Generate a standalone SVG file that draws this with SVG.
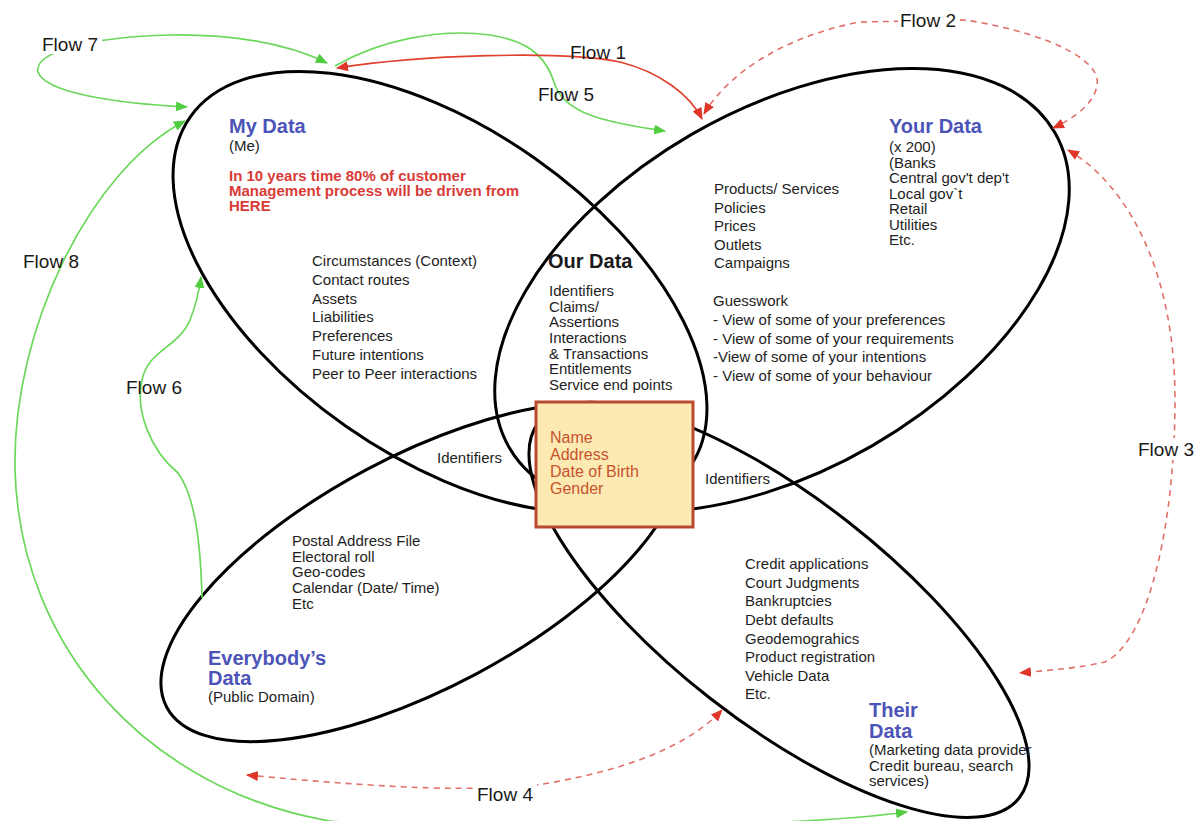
<svg xmlns="http://www.w3.org/2000/svg" width="1202" height="821" viewBox="0 0 1202 821">
<style>
text{font-family:"Liberation Sans",Arial,Helvetica,sans-serif;font-size:15px;fill:#1e1e1e}
.ell{fill:none;stroke:#000;stroke-width:3}
.flow{font-size:19px;fill:#1a1a1a}
.hd{font-size:20px;font-weight:bold;fill:#4c54b8}
.hk{font-size:20px;font-weight:bold;fill:#1a1a1a}
.rt{font-size:15px;font-weight:bold;fill:#d83b37}
.bx{font-size:16px;fill:#c6532e}
.g{fill:none;stroke:#6cd85b;stroke-width:1.7}
.r{fill:none;stroke:#e0402e;stroke-width:1.6}
.rd{fill:none;stroke:#e2706a;stroke-width:1.6;stroke-dasharray:6 5}
.bg{fill:#fff}
</style>
<defs>
<marker id="ag" viewBox="0 0 12 10" refX="11" refY="5" markerWidth="12" markerHeight="10" markerUnits="userSpaceOnUse" orient="auto-start-reverse"><path d="M0,0 L12,5 L0,10 z" fill="#52cc40"/></marker>
<marker id="ar" viewBox="0 0 12 10" refX="11" refY="5" markerWidth="12" markerHeight="10" markerUnits="userSpaceOnUse" orient="auto-start-reverse"><path d="M0,0 L12,5 L0,10 z" fill="#e0362a"/></marker>
</defs>
<rect width="1202" height="821" fill="#fff"/>

<g id="ellipses">
<ellipse id="my-data-shape" class="ell" cx="0" cy="0" rx="305" ry="164" transform="translate(440,292) rotate(35)"/>
<ellipse id="your-data-shape" class="ell" cx="0" cy="0" rx="315" ry="180" transform="translate(782,290) rotate(-30)"/>
<ellipse id="everybody-data-shape" class="ell" cx="0" cy="0" rx="288" ry="116" transform="translate(421,572) rotate(-28)"/>
<ellipse id="their-data-shape" class="ell" cx="0" cy="0" rx="305" ry="112" transform="translate(779,610) rotate(38)"/>
</g>

<g id="connectors">
<path id="flow7" class="g" d="M187,107 C110,103 45,92 38,72 C34,52 90,37 170,35 C240,34 290,45 327,63" marker-start="url(#ag)" marker-end="url(#ag)"/>
<path id="flow5" class="g" d="M335,66 C380,40 440,28 490,35 C535,42 548,62 555,85 C565,112 600,122 665,131" marker-end="url(#ag)"/>
<path id="flow1" class="r" d="M337,68 C420,55 560,50 620,62 C660,72 690,95 702,119" marker-start="url(#ar)" marker-end="url(#ar)"/>
<path id="flow2" class="rd" d="M704,114 C730,70 790,35 860,22 L965,20 C1020,28 1090,50 1097,78 C1100,100 1075,118 1053,128" marker-start="url(#ar)" marker-end="url(#ar)"/>
<path id="flow3" class="rd" d="M1068,150 C1120,180 1175,260 1175,400 C1175,520 1150,640 1105,662 C1080,668 1050,670 1020,673" marker-start="url(#ar)" marker-end="url(#ar)"/>
<path id="flow4" class="rd" d="M247,775 C320,782 420,790 480,788 L537,785 C600,775 680,755 722,710" marker-start="url(#ar)" marker-end="url(#ar)"/>
<path id="flow6" class="g" d="M202,598 C201,560 198,500 178,473 C150,450 135,410 142,380 C148,350 178,348 190,320 C196,305 199,292 201,277" marker-end="url(#ag)"/>
<path id="flow8" class="g" d="M907,812 C800,826 500,835 330,821 C150,790 20,650 15,470 C12,330 90,170 185,121" marker-start="url(#ag)" marker-end="url(#ag)"/>
</g>

<g id="flow-labels">
<rect class="bg" x="40" y="33" width="62" height="21"/>
<text class="flow" x="42" y="51">Flow 7</text>
<text class="flow" x="570" y="59">Flow 1</text>
<text class="flow" x="538" y="101">Flow 5</text>
<rect class="bg" x="898" y="9" width="61" height="21"/>
<text class="flow" x="900" y="27">Flow 2</text>
<text class="flow" x="23" y="268">Flow 8</text>
<text class="flow" x="126" y="394">Flow 6</text>
<rect class="bg" x="1136" y="438" width="62" height="22"/>
<text class="flow" x="1138" y="456">Flow 3</text>
<rect class="bg" x="475" y="783" width="62" height="22"/>
<text class="flow" x="477" y="801">Flow 4</text>
</g>

<g id="my-data">
<text class="hd" x="229" y="133">My Data</text>
<text x="229" y="151">(Me)</text>
<text class="rt" x="229" y="181">In 10 years time 80% of customer</text>
<text class="rt" x="229" y="196">Management process will be driven from</text>
<text class="rt" x="229" y="211">HERE</text>
<text x="312" y="266">Circumstances (Context)</text>
<text x="312" y="285">Contact routes</text>
<text x="312" y="304">Assets</text>
<text x="312" y="322">Liabilities</text>
<text x="312" y="341">Preferences</text>
<text x="312" y="360">Future intentions</text>
<text x="312" y="379">Peer to Peer interactions</text>
</g>

<g id="your-data">
<text class="hd" x="889" y="133">Your Data</text>
<text x="889" y="152">(x 200)</text>
<text x="889" y="167.5">(Banks</text>
<text x="889" y="183">Central gov't dep't</text>
<text x="889" y="198.5">Local gov`t</text>
<text x="889" y="214">Retail</text>
<text x="889" y="229.5">Utilities</text>
<text x="889" y="245">Etc.</text>
<text x="714" y="194">Products/ Services</text>
<text x="714" y="212.5">Policies</text>
<text x="714" y="231">Prices</text>
<text x="714" y="249.5">Outlets</text>
<text x="714" y="268">Campaigns</text>
<text x="713" y="306">Guesswork</text>
<text x="713" y="325">- View of some of your preferences</text>
<text x="713" y="344">- View of some of your requirements</text>
<text x="713" y="362">-View of some of your intentions</text>
<text x="713" y="381">- View of some of your behaviour</text>
</g>

<g id="our-data">
<text class="hk" x="548" y="268">Our Data</text>
<text x="549" y="296">Identifiers</text>
<text x="549" y="311.5">Claims/</text>
<text x="549" y="327">Assertions</text>
<text x="549" y="343">Interactions</text>
<text x="549" y="358.5">&amp; Transactions</text>
<text x="549" y="374">Entitlements</text>
<text x="549" y="390">Service end points</text>
</g>

<g id="identifiers-labels">
<text x="437" y="463">Identifiers</text>
<text x="705" y="484">Identifiers</text>
</g>

<g id="core-box">
<rect x="536" y="402" width="157" height="125" fill="#fdeab3" stroke="#b84a30" stroke-width="3"/>
<text class="bx" x="550" y="443">Name</text>
<text class="bx" x="550" y="460">Address</text>
<text class="bx" x="550" y="477">Date of Birth</text>
<text class="bx" x="550" y="494">Gender</text>
</g>

<g id="everybodys-data">
<text x="292" y="546">Postal Address File</text>
<text x="292" y="561.5">Electoral roll</text>
<text x="292" y="577">Geo-codes</text>
<text x="292" y="593">Calendar (Date/ Time)</text>
<text x="292" y="608.5">Etc</text>
<text class="hd" x="208" y="665">Everybody’s</text>
<text class="hd" x="208" y="685">Data</text>
<text x="208" y="702">(Public Domain)</text>
</g>

<g id="their-data">
<text x="745" y="569">Credit applications</text>
<text x="745" y="587.5">Court Judgments</text>
<text x="745" y="606">Bankruptcies</text>
<text x="745" y="625">Debt defaults</text>
<text x="745" y="643.5">Geodemograhics</text>
<text x="745" y="662">Product registration</text>
<text x="745" y="681">Vehicle Data</text>
<text x="745" y="699">Etc.</text>
<text class="hd" x="869" y="717">Their</text>
<text class="hd" x="869" y="738">Data</text>
<text x="869" y="755">(Marketing data provider</text>
<text x="869" y="771">Credit bureau, search</text>
<text x="869" y="786">services)</text>
</g>
</svg>
